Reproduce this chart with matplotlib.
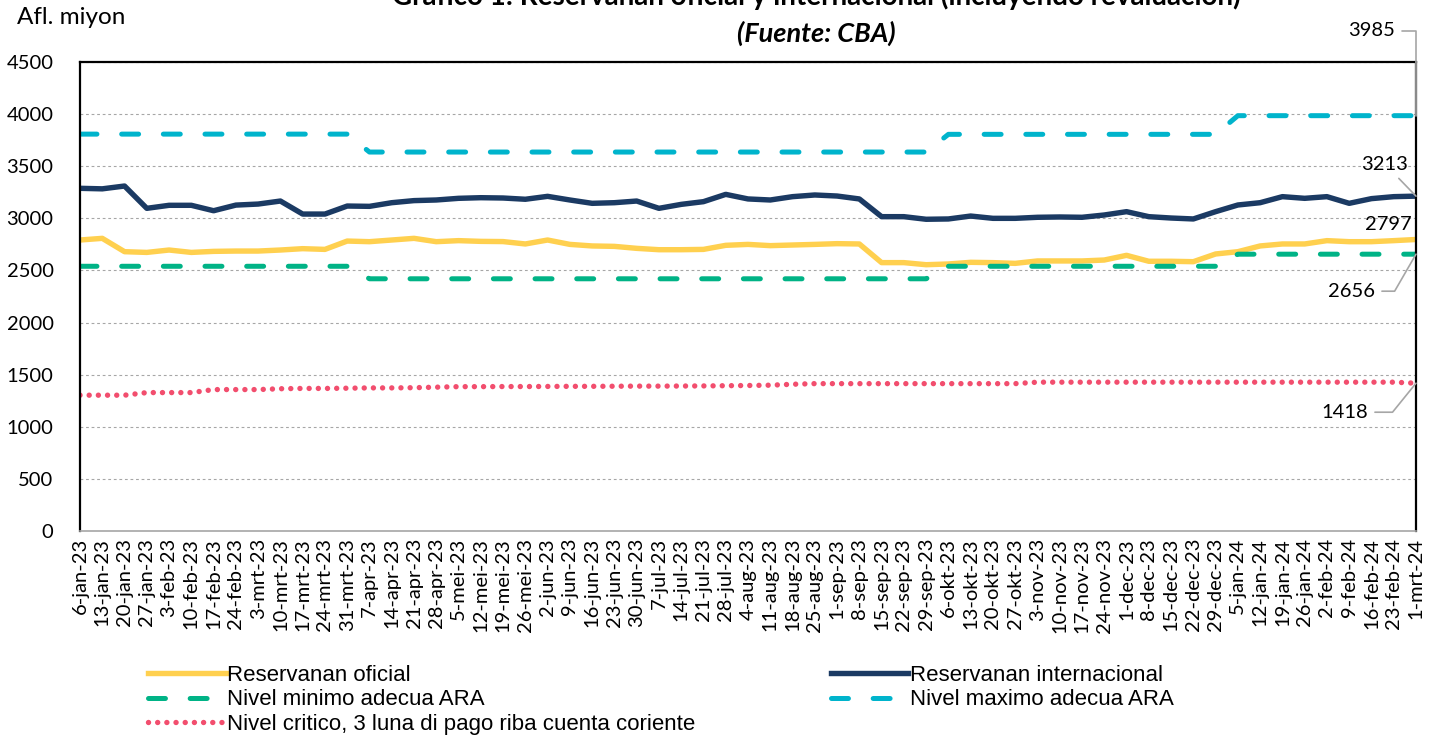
import numpy as np
import matplotlib
matplotlib.use("Agg")
import matplotlib.pyplot as plt

plt.rcParams['font.family'] = ['Lato', 'DejaVu Sans']
plt.rcParams['lines.scale_dashes'] = False

fechas = ["6-jan-23", "13-jan-23", "20-jan-23", "27-jan-23", "3-feb-23", "10-feb-23", "17-feb-23",
          "24-feb-23", "3-mrt-23", "10-mrt-23", "17-mrt-23", "24-mrt-23", "31-mrt-23", "7-apr-23",
          "14-apr-23", "21-apr-23", "28-apr-23", "5-mei-23", "12-mei-23", "19-mei-23", "26-mei-23",
          "2-jun-23", "9-jun-23", "16-jun-23", "23-jun-23", "30-jun-23", "7-jul-23", "14-jul-23",
          "21-jul-23", "28-jul-23", "4-aug-23", "11-aug-23", "18-aug-23", "25-aug-23", "1-sep-23",
          "8-sep-23", "15-sep-23", "22-sep-23", "29-sep-23", "6-okt-23", "13-okt-23", "20-okt-23",
          "27-okt-23", "3-nov-23", "10-nov-23", "17-nov-23", "24-nov-23", "1-dec-23", "8-dec-23",
          "15-dec-23", "22-dec-23", "29-dec-23", "5-jan-24", "12-jan-24", "19-jan-24", "26-jan-24",
          "2-feb-24", "9-feb-24", "16-feb-24", "23-feb-24", "1-mrt-24"]

oficial = [2792, 2808, 2680, 2673, 2696, 2673, 2683, 2686, 2686, 2696, 2709, 2702, 2782, 2776,
           2792, 2808, 2776, 2786, 2779, 2777, 2754, 2792, 2750, 2735, 2731, 2712, 2699, 2699,
           2702, 2741, 2750, 2738, 2744, 2750, 2757, 2754, 2575, 2575, 2555, 2562, 2578, 2575,
           2568, 2591, 2591, 2591, 2600, 2645, 2588, 2588, 2584, 2658, 2680, 2735, 2754, 2754,
           2786, 2776, 2776, 2786, 2797]

internacional = [3288, 3283, 3310, 3096, 3125, 3125, 3073, 3127, 3137, 3166, 3041, 3041, 3118,
                 3115, 3150, 3170, 3176, 3192, 3198, 3195, 3183, 3211, 3176, 3144, 3150, 3166,
                 3096, 3134, 3160, 3230, 3186, 3176, 3208, 3224, 3214, 3186, 3016, 3016, 2991,
                 2994, 3022, 3000, 3000, 3010, 3013, 3010, 3032, 3064, 3016, 3003, 2994, 3064,
                 3128, 3150, 3208, 3192, 3208, 3144, 3189, 3208, 3213]

minimo = [2540] * 13 + [2420] * 26 + [2540] * 13 + [2656] * 9
maximo = [3808] * 13 + [3636] * 26 + [3806] * 13 + [3985] * 9

critico = [1303, 1303, 1303, 1328, 1328, 1328, 1357, 1357, 1357, 1365, 1368, 1368, 1370, 1373,
           1373, 1375, 1380, 1385, 1385, 1386, 1386, 1387, 1388, 1388, 1389, 1390, 1390, 1391,
           1392, 1394, 1396, 1399, 1408, 1414, 1414, 1414, 1414, 1414, 1414, 1414, 1414, 1414,
           1414, 1428, 1428, 1428, 1428, 1428, 1428, 1428, 1428, 1428, 1428, 1428, 1428, 1428,
           1428, 1428, 1428, 1428, 1418]

c_ofi = '#FFD04F'
c_int = '#1B3A63'
c_min = '#00B386'
c_max = '#00B4CC'
c_cri = '#F24E6E'

x = np.arange(len(fechas))

fig = plt.figure(figsize=(14.43, 7.40), dpi=100)
ax = fig.add_axes([80 / 1443, 1 - 531 / 740, (1416 - 80) / 1443, (531 - 62) / 740])

l1, = ax.plot(x, oficial, color=c_ofi, lw=3.9, solid_joinstyle='round', label='Reservanan oficial')
l2, = ax.plot(x, internacional, color=c_int, lw=3.9, solid_joinstyle='round',
              label='Reservanan internacional')
l3, = ax.plot(x, minimo, color=c_min, lw=3.6, dashes=(12.2, 17.8), dash_capstyle='round',
              dash_joinstyle='round', label='Nivel minimo adecua ARA')
l4, = ax.plot(x, maximo, color=c_max, lw=3.6, dashes=(12.2, 17.8), dash_capstyle='round',
              dash_joinstyle='round', label='Nivel maximo adecua ARA')
l5, = ax.plot(x, critico, color=c_cri, lw=3.9, dashes=(0.01, 6.6), dash_capstyle='round',
              label='Nivel critico, 3 luna di pago riba cuenta coriente')

ax.set_xlim(0, len(fechas) - 1)
ax.set_ylim(0, 4500)
ax.set_yticks(np.arange(0, 4501, 500))
ax.set_xticks(x)
ax.set_xticklabels(fechas, rotation=90, fontsize=14.5)
ax.tick_params(axis='y', length=0, pad=19, labelsize=14.5)
ax.tick_params(axis='x', length=0, pad=5)
ax.grid(axis='y', color='#A6A6A6', lw=0.8, dashes=(2, 2))
ax.set_axisbelow(True)
for s in ['top', 'left', 'right']:
    ax.spines[s].set_color('black')
    ax.spines[s].set_linewidth(1.6)
ax.spines['bottom'].set_color('#A6A6A6')
ax.spines['bottom'].set_linewidth(1.2)

# end labels
lead = dict(arrowstyle='-', color='#A6A6A6', lw=1.2, shrinkA=3, shrinkB=0)
n = len(fechas) - 1
ax.annotate(str(maximo[-1]), xy=(n, maximo[-1]), xytext=(-21, 85), textcoords='offset pixels',
            ha='right', va='center', fontsize=14.5, annotation_clip=False,
            arrowprops=dict(lead, connectionstyle='angle,angleA=0,angleB=90,rad=0'))
ax.annotate(str(internacional[-1]), xy=(n, internacional[-1]), xytext=(-31, 32),
            textcoords='offset pixels', ha='center', va='center', fontsize=14.5,
            annotation_clip=False, arrowprops=dict(lead))
ax.annotate(str(oficial[-1]), xy=(n, oficial[-1]), xytext=(-28, 15), textcoords='offset pixels',
            ha='center', va='center', fontsize=14.5, annotation_clip=False)
ax.annotate(str(minimo[-1]), xy=(n, minimo[-1]), xytext=(-41, -37), textcoords='offset pixels',
            ha='right', va='center', fontsize=14.5, annotation_clip=False,
            arrowprops=dict(lead, connectionstyle='angle,angleA=0,angleB=60,rad=0'))
ax.annotate(str(critico[-1]), xy=(n, critico[-1]), xytext=(-48, -29), textcoords='offset pixels',
            ha='right', va='center', fontsize=14.5, annotation_clip=False,
            arrowprops=dict(lead, connectionstyle='angle,angleA=0,angleB=51,rad=0'))

fig.text(17 / 1443, 1 - 18 / 740, 'Afl. miyon', fontsize=17.5, ha='left', va='center')
fig.text(816 / 1443, 1 - 5 / 740,
         'Grafico 1: Reservanan oficial y internacional (incluyendo revaluación)',
         fontsize=20, fontweight='bold', ha='center', va='baseline')
fig.text(816 / 1443, 1 - 33 / 740, '(Fuente: CBA)', fontsize=19.5, fontweight='bold',
         fontstyle='italic', ha='center', va='center')

fig.legend(handles=[l1, l3, l5, l2, l4], loc='upper left', ncol=2,
           bbox_to_anchor=(148 / 1443, 1 - 665 / 740), frameon=False,
           prop={'family': 'Liberation Sans', 'size': 16}, handlelength=3.5,
           handletextpad=0.05, labelspacing=0.15, columnspacing=6.1, borderpad=0,
           borderaxespad=0)

fig.savefig('out.png', dpi=100)
